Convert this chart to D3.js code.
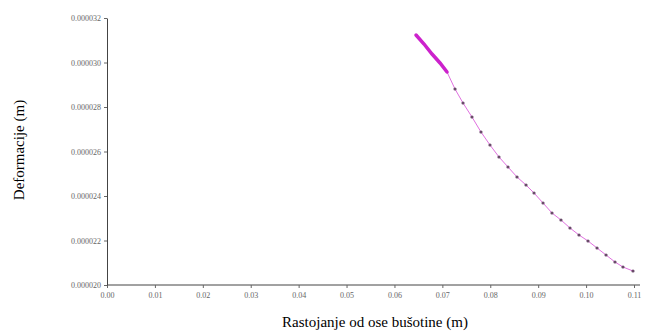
<!DOCTYPE html>
<html>
<head>
<meta charset="utf-8">
<script src="https://cdn.jsdelivr.net/npm/d3@7"></script>
<style>
  body { margin: 0; background: #fff; }
  svg text { font-family: "Liberation Serif", "Times New Roman", serif; }
</style>
</head>
<body>
<svg id="chart" width="654" height="336"></svg>
<script>
// dense start of the curve (drawn as a thick band)
const denseDist = [0.0645, 0.06617, 0.06784, 0.06951, 0.07097];
const denseDef = [0.000031236, 0.000030831, 0.000030382, 0.000029978, 0.000029573];

// sampled points with markers
const dist = [0.07097, 0.07264, 0.07431, 0.07618, 0.07806, 0.07994, 0.08182, 0.0837,
  0.08558, 0.08746, 0.08913, 0.09101, 0.09288, 0.09476, 0.09664, 0.09852,
  0.1004, 0.10228, 0.10416, 0.10603, 0.1077, 0.10979];
const def = [0.000029573, 0.000028809, 0.00002818, 0.000027551, 0.000026876, 0.000026292,
  0.000025753, 0.000025303, 0.000024854, 0.000024494, 0.000024135, 0.000023685,
  0.000023236, 0.000022921, 0.000022562, 0.000022247, 0.000021978, 0.000021663,
  0.000021348, 0.000021034, 0.000020809, 0.000020629];

const xTicks = [0, 0.01, 0.02, 0.03, 0.04, 0.05, 0.06, 0.07, 0.08, 0.09, 0.1, 0.11];
const yTicks = [0.00002, 0.000022, 0.000024, 0.000026, 0.000028, 0.00003, 0.000032];

const svg = d3.select("#chart");

const x = d3.scaleLinear().domain([0, 0.11]).range([107, 634]);
const y = d3.scaleLinear().domain([0.00002, 0.000032]).range([285, 18]);

// axes
const xAxis = svg.append("g")
  .attr("transform", "translate(0,285)")
  .call(d3.axisBottom(x).tickValues(xTicks).tickFormat(d3.format(".2f")).tickSize(3).tickSizeOuter(0));

const yAxis = svg.append("g")
  .attr("transform", "translate(107,0)")
  .call(d3.axisLeft(y).tickValues(yTicks).tickFormat(d3.format(".6f")).tickSize(3).tickSizeOuter(0));

[xAxis, yAxis].forEach((a) => {
  a.attr("color", "#666");
  a.select(".domain").attr("stroke", "#444");
  a.selectAll(".tick text")
    .style("font-size", "8px")
    .style("font-family", "'Liberation Serif', serif");
});
xAxis.select(".domain").attr("d", "M107,0H640");
xAxis.selectAll(".tick text").attr("dy", "0.9em");

// titles
svg.append("text")
  .attr("x", 375).attr("y", 327)
  .attr("text-anchor", "middle")
  .style("font-size", "15px")
  .text("Rastojanje od ose bušotine (m)");

svg.append("text")
  .attr("transform", "translate(24,150) rotate(-90)")
  .attr("text-anchor", "middle")
  .style("font-size", "15px")
  .text("Deformacije (m)");

// curve
const line = d3.line().x((d) => x(d[0])).y((d) => y(d[1]));
const densePts = denseDist.map((d, i) => [d, denseDef[i]]);
const pts = dist.map((d, i) => [d, def[i]]);

svg.append("path")
  .datum(pts)
  .attr("d", line)
  .attr("fill", "none")
  .attr("stroke", "#e070e0")
  .attr("stroke-width", 1);

svg.append("path")
  .datum(densePts)
  .attr("d", line)
  .attr("fill", "none")
  .attr("stroke", "#cc22cc")
  .attr("stroke-width", 3.5)
  .attr("stroke-linecap", "round");

svg.append("g")
  .selectAll("circle")
  .data(pts.slice(1))
  .join("circle")
  .attr("cx", (d) => x(d[0]))
  .attr("cy", (d) => y(d[1]))
  .attr("r", 1.6)
  .attr("fill", "#6a4a6a");
</script>
</body>
</html>
